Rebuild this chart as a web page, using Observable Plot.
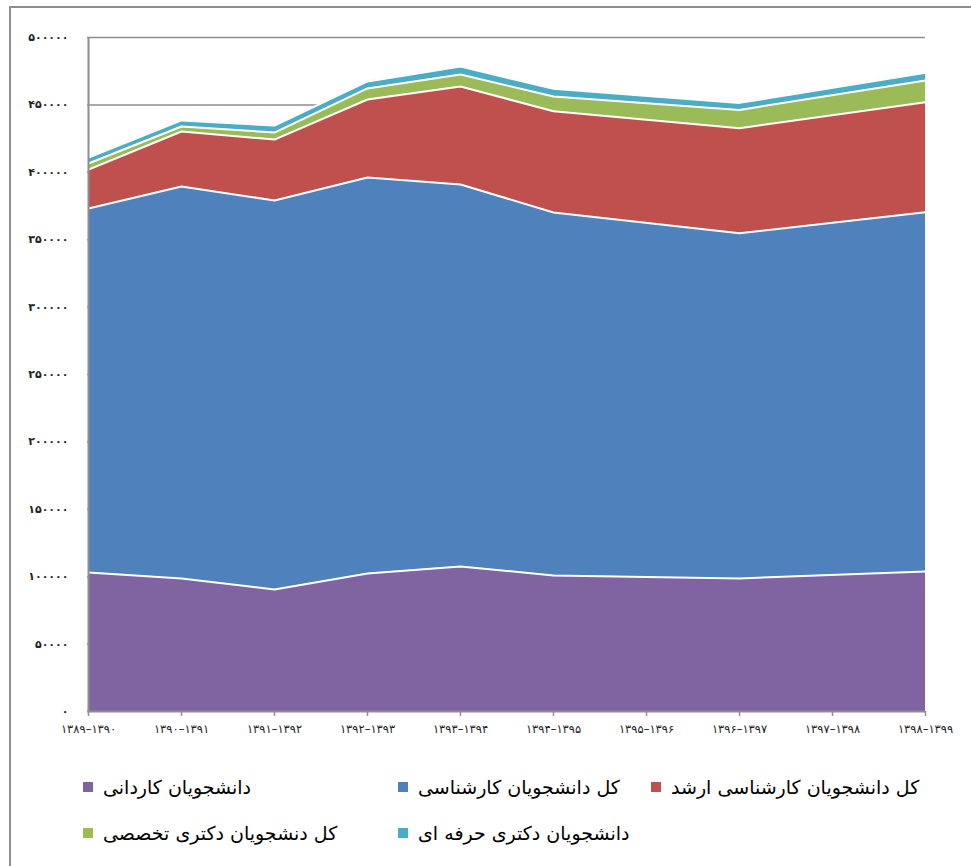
<!DOCTYPE html>
<html><head><meta charset="utf-8">
<script src="https://cdn.jsdelivr.net/npm/d3@7"></script>
<script src="https://cdn.jsdelivr.net/npm/@observablehq/plot@0.6"></script>
<style>
body{margin:0;background:#fff;font-family:"DejaVu Sans",sans-serif;}
#wrap{position:relative;width:971px;height:866px;overflow:hidden;background:#fff;}
#frame{position:absolute;left:9px;top:6px;width:1000px;height:900px;border-left:2px solid #8e8e8e;border-top:2px solid #8e8e8e;}
#chart{position:absolute;left:0;top:0;}
.leg{position:absolute;display:flex;align-items:center;height:24px;}
.sq{width:10px;height:10px;margin-right:10px;flex:none;}
.lt{direction:rtl;font-size:19px;color:#000;white-space:nowrap;font-family:"DejaVu Sans",sans-serif;}
</style></head>
<body>
<div id="wrap"><div id="frame"></div><div id="chart"></div><div id="legend"></div></div>
<script>
const xLabels = ["۱۳۸۹–۱۳۹۰","۱۳۹۰–۱۳۹۱","۱۳۹۱–۱۳۹۲","۱۳۹۲–۱۳۹۳","۱۳۹۳–۱۳۹۴","۱۳۹۴–۱۳۹۵","۱۳۹۵–۱۳۹۶","۱۳۹۶–۱۳۹۷","۱۳۹۷–۱۳۹۸","۱۳۹۸–۱۳۹۹"];
const dataLabels = ["۱۳۸۹–۱۳۹۰","۱۳۹۰–۱۳۹۱","۱۳۹۱–۱۳۹۲","۱۳۹۲–۱۳۹۳","۱۳۹۳–۱۳۹۴","۱۳۹۴–۱۳۹۵","۱۳۹۶–۱۳۹۷","۱۳۹۸–۱۳۹۹"];
const seriesNames = ["دانشجویان کاردانی","کل دانشجویان کارشناسی","کل دانشجویان کارشناسی ارشد","کل دنشجویان دکتری تخصصی","دانشجویان دکتری حرفه ای"];
const kardani   = [103100, 98700, 90500, 102400, 107600, 100900, 98700, 103900];
const karshenasi= [270000, 290800, 288600, 293700, 283400, 269300, 256100, 266500];
const arshad    = [28900, 40800, 45200, 57900, 72700, 75100, 77900, 81600];
const doktori   = [4500, 3700, 5200, 8200, 8900, 10900, 13600, 16100];
const herfei    = [4500, 4500, 5200, 5200, 5900, 5700, 5200, 5700];
const colors = ["#8064A2","#4F81BD","#C0504D","#9BBB59","#4BACC6"];
const yTicks = [0,50000,100000,150000,200000,250000,300000,350000,400000,450000,500000];

const fa = s => String(s).replace(/\d/g, d => "۰۱۲۳۴۵۶۷۸۹"[d]);
const seriesVals = [kardani, karshenasi, arshad, doktori, herfei];
const rows = [];
seriesVals.forEach((vals, i) => vals.forEach((v, j) => rows.push({x: dataLabels[j], y: v, s: seriesNames[i]})));

const chart = Plot.plot({
  width: 971, height: 750,
  marginLeft: 87, marginRight: 46, marginTop: 37, marginBottom: 39,
  style: {background: "transparent", fontFamily: "DejaVu Sans, sans-serif"},
  x: {type: "point", domain: xLabels, padding: 0, label: null},
  y: {domain: [0, 500000], label: null},
  color: {domain: seriesNames, range: colors},
  marks: [
    Plot.ruleY(yTicks.slice(1), {stroke: "#8e8e8e", strokeWidth: 1.5}),
    Plot.areaY(rows, {x: "x", y: "y", z: "s", fill: "s", fillOpacity: 1}),
    Plot.lineY(rows, Plot.stackY2({x: "x", y: "y", z: "s", stroke: "white", strokeWidth: 2})),
    Plot.ruleX([xLabels[0]], {y1: 0, y2: 500000, stroke: "#8e8e8e", strokeWidth: 2}),
    Plot.ruleY([0], {stroke: "#8e8e8e", strokeWidth: 2}),
    Plot.axisY({ticks: yTicks, tickSize: 0, tickPadding: 19, tickFormat: fa, fontSize: 11, fontWeight: "bold", fill: "#222", label: null}),
    Plot.axisX({tickSize: 5, tickPadding: 8, stroke: "#8e8e8e", strokeWidth: 1.5, fontSize: 11.5, fill: "#222", label: null})
  ]
});
document.getElementById("chart").appendChild(chart);

const legendPos = [[83, 775], [398, 775], [651, 775], [83, 821], [398, 821]];
const leg = document.getElementById("legend");
seriesNames.forEach((name, i) => {
  const d = document.createElement("div");
  d.className = "leg";
  d.style.left = legendPos[i][0] + "px";
  d.style.top = legendPos[i][1] + "px";
  d.innerHTML = `<div class="sq" style="background:${colors[i]}"></div><div class="lt">${name}</div>`;
  leg.appendChild(d);
});
</script>
</body></html>
